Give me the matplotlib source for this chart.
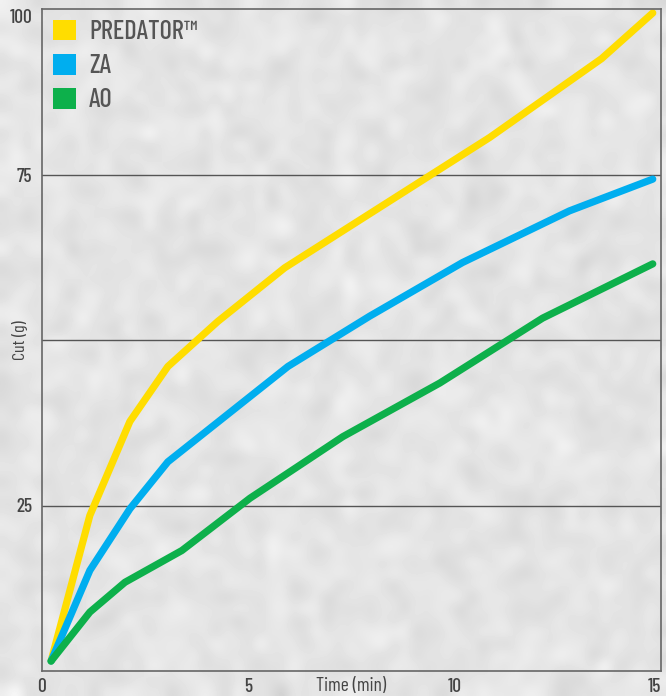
import numpy as np
import matplotlib
matplotlib.use("Agg")
import matplotlib.pyplot as plt
from matplotlib.patches import Patch

# данные
time_predator = [0.22, 1.16, 2.13, 3.05, 4.26, 5.88, 10.85, 13.56, 14.8]
cut_predator = [1.5, 23.5, 37.7, 46.0, 52.8, 60.9, 80.6, 92.5, 99.4]

time_za = [0.22, 1.16, 2.13, 3.05, 5.96, 7.94, 10.19, 12.78, 14.8]
cut_za = [1.5, 15.2, 24.5, 31.6, 46.0, 53.6, 61.7, 69.5, 74.3]

time_ao = [0.22, 1.16, 2.01, 3.39, 5.04, 7.29, 9.64, 12.13, 14.8]
cut_ao = [1.5, 8.9, 13.4, 18.2, 26.1, 35.4, 43.5, 53.3, 61.5]

series_names = ["PREDATOR™", "ZA", "AO"]
series_colors = ["#FFDD00", "#00AEEF", "#0DB04B"]

x_ticks = [0, 5, 10, 15]
y_ticks = [25, 50, 75, 100]
y_tick_labels = ["25", "", "75", "100"]

plt.rcParams['font.family'] = ['Barlow Condensed', 'DejaVu Sans']
plt.rcParams['font.weight'] = 'medium'
text_color = "#444444"

fig = plt.figure(figsize=(6.66, 6.96), dpi=100)

# фон "бетон": мягкая текстура из фиксированного шума
bg = fig.add_axes([0, 0, 1, 1], zorder=0)
rs = np.random.RandomState(3)
tex = 0.895 + 0.028 * rs.randn(60, 60)
bg.imshow(tex, cmap="gray", vmin=0, vmax=1, interpolation="bicubic", aspect="auto")
bg.axis("off")

ax = fig.add_axes([42 / 666, 1 - 671 / 696, (661 - 42) / 666, (671 - 9) / 696], zorder=1)
ax.set_facecolor("none")

for t, c, col in zip([time_predator, time_za, time_ao],
                     [cut_predator, cut_za, cut_ao], series_colors):
    ax.plot(t, c, color=col, linewidth=5.2, solid_capstyle="round", solid_joinstyle="round")

ax.set_xlim(0, 15)
ax.set_ylim(0, 100)
for y in [25, 50, 75]:
    ax.axhline(y, color="#555555", linewidth=1.0, zorder=0.5)

for s in ax.spines.values():
    s.set_color("#666666")
    s.set_linewidth(1.2)

ax.set_xticks(x_ticks)
ax.set_yticks(y_ticks)
ax.set_yticklabels(y_tick_labels)
ax.tick_params(length=0, labelsize=14, colors=text_color)
ax.tick_params(axis="x", pad=5)
ax.tick_params(axis="y", pad=7)
ax.get_xticklabels()[-1].set_horizontalalignment("right")
ax.get_yticklabels()[-1].set_verticalalignment("top")  # "100" чуть ниже верхней рамки

ax.set_xlabel("Time (min)", fontsize=14, color=text_color)
ax.xaxis.set_label_coords(0.5, -0.009)
ax.xaxis.label.set_verticalalignment("top")
ax.set_ylabel("Cut (g)", fontsize=13, color=text_color)
ax.yaxis.set_label_coords(-0.022, 0.5)

handles = [Patch(facecolor=c, edgecolor="none") for c in series_colors]
leg = ax.legend(handles, series_names, loc="upper left", frameon=False,
                fontsize=19, handlelength=0.88, handleheight=0.84,
                handletextpad=0.5, labelspacing=0.36, borderpad=0.4, borderaxespad=0)
for txt in leg.get_texts():
    txt.set_color("#555555")

fig.savefig("out.png", dpi=100)
